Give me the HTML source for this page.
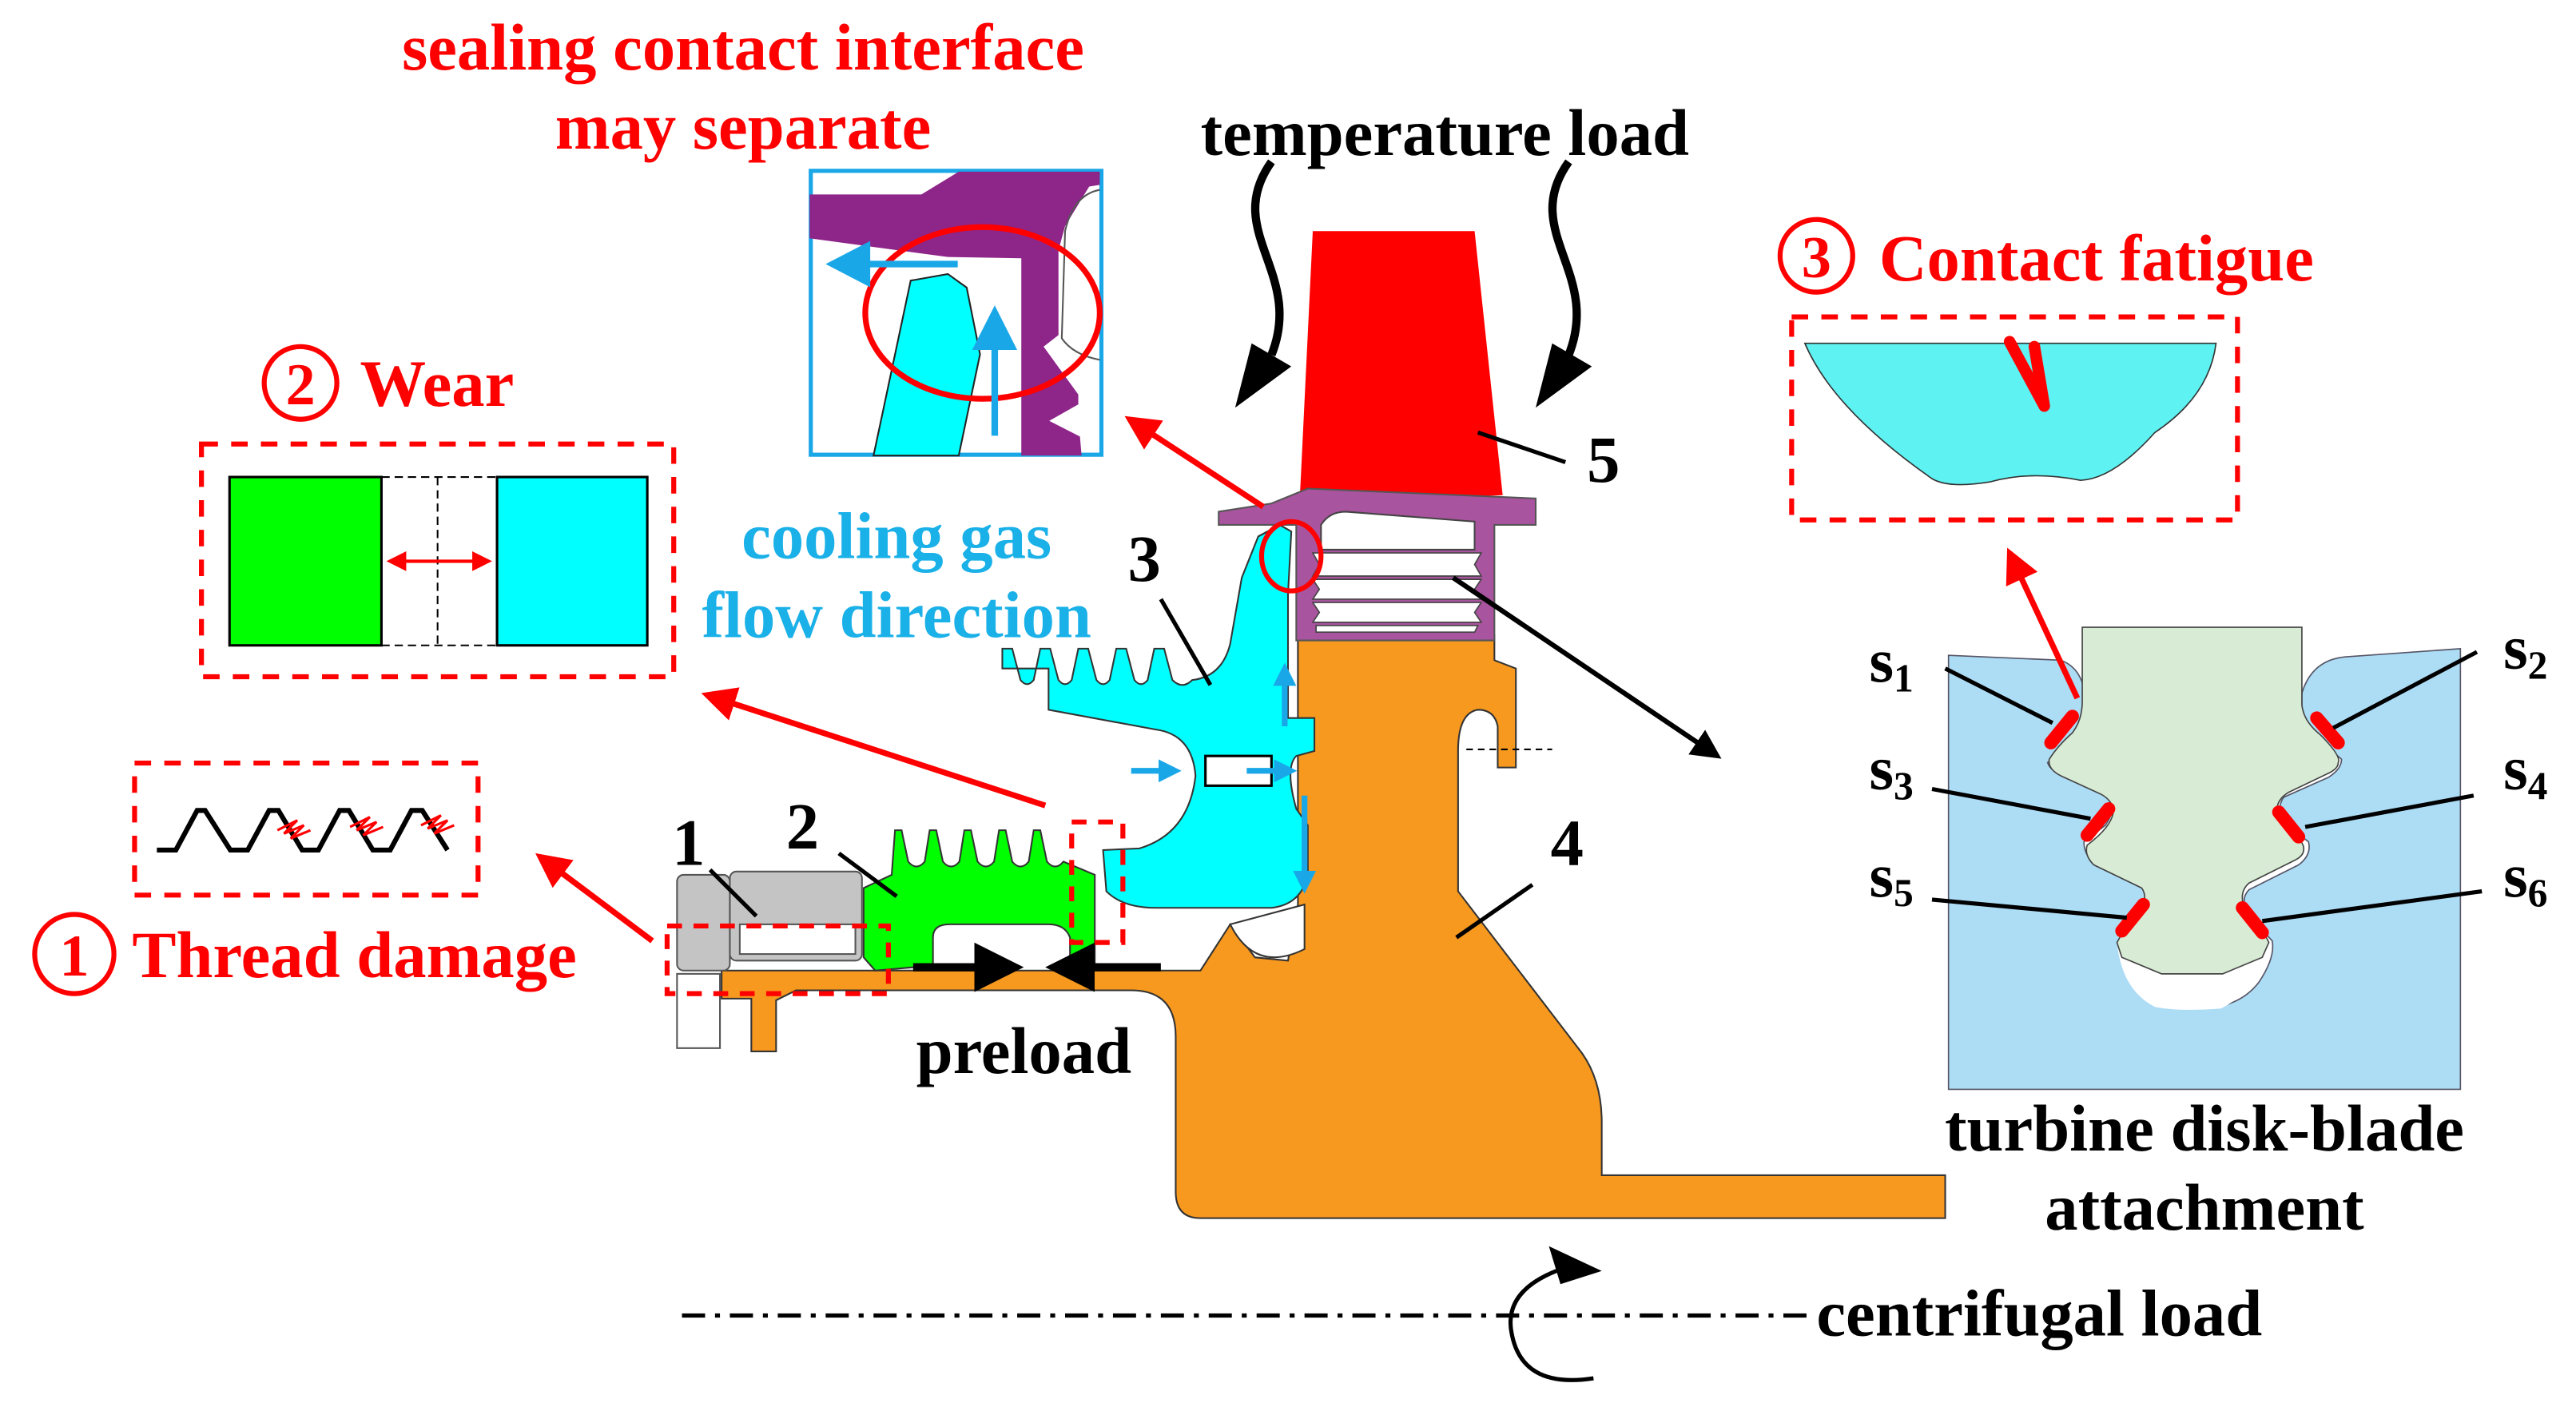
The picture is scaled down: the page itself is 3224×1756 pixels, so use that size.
<!DOCTYPE html>
<html><head><meta charset="utf-8"><style>
html,body{margin:0;padding:0;background:#fff;}
svg{display:block;}
text{font-family:"Liberation Serif",serif;font-weight:bold;}
</style></head><body>
<svg width="3224" height="1756" viewBox="0 0 1560 850" preserveAspectRatio="none" xmlns="http://www.w3.org/2000/svg">
<defs>
<marker id="ar" markerWidth="6" markerHeight="6" refX="5" refY="3" orient="auto-start-reverse" markerUnits="strokeWidth"><path d="M0,0 L6,3 L0,6 Z" fill="#f00"/></marker>
<marker id="ak" markerWidth="6" markerHeight="6" refX="5" refY="3" orient="auto" markerUnits="strokeWidth"><path d="M0,0 L6,3 L0,6 Z" fill="#000"/></marker>
<marker id="ab" markerWidth="4" markerHeight="4" refX="3" refY="2" orient="auto" markerUnits="strokeWidth"><path d="M0,0 L4,2 L0,4 Z" fill="#1aa7e8"/></marker>
</defs>

<!-- titles -->
<text x="450" y="42" font-size="40" fill="#f00" text-anchor="middle">sealing contact interface</text>
<text x="450" y="90" font-size="40" fill="#f00" text-anchor="middle">may separate</text>
<text x="875" y="94" font-size="40" fill="#000" text-anchor="middle">temperature load</text>
<circle cx="1100" cy="155" r="22" fill="none" stroke="#f00" stroke-width="3"/>
<text x="1100" y="168" font-size="36" fill="#f00" text-anchor="middle">3</text>
<text x="1138" y="170" font-size="40" fill="#f00">Contact fatigue</text>
<circle cx="182" cy="232" r="22" fill="none" stroke="#f00" stroke-width="3"/>
<text x="182" y="245" font-size="36" fill="#f00" text-anchor="middle">2</text>
<text x="218" y="246" font-size="40" fill="#f00">Wear</text>
<text x="543" y="338" font-size="40" fill="#1ab0e8" text-anchor="middle">cooling gas</text>
<text x="543" y="386" font-size="40" fill="#1ab0e8" text-anchor="middle">flow direction</text>
<circle cx="45" cy="578" r="24" fill="none" stroke="#f00" stroke-width="3"/>
<text x="45" y="591" font-size="36" fill="#f00" text-anchor="middle">1</text>
<text x="80" y="592" font-size="40" fill="#f00">Thread damage</text>
<text x="620" y="650" font-size="40" fill="#000" text-anchor="middle">preload</text>
<text x="1335" y="697" font-size="40" fill="#000" text-anchor="middle">turbine disk-blade</text>
<text x="1335" y="745" font-size="40" fill="#000" text-anchor="middle">attachment</text>
<text x="1100" y="809" font-size="40" fill="#000">centrifugal load</text>

<!-- wear box -->
<rect x="122" y="269" width="286" height="141" fill="none" stroke="#f00" stroke-width="3" stroke-dasharray="10,8"/>
<rect x="139" y="289" width="92" height="102" fill="#00ff00" stroke="#000" stroke-width="1.5"/>
<rect x="301" y="289" width="91" height="102" fill="#00ffff" stroke="#000" stroke-width="1.5"/>
<path d="M231,289 H301 M231,391 H301 M265,289 V391" stroke="#000" stroke-width="1" stroke-dasharray="5,3" fill="none"/>
<line x1="236" y1="340" x2="296" y2="340" stroke="#f00" stroke-width="2" marker-start="url(#ar)" marker-end="url(#ar)"/>

<!-- thread box -->
<rect x="81.5" y="462.3" width="208" height="80" fill="none" stroke="#f00" stroke-width="3" stroke-dasharray="10,8"/>
<polyline points="95,515 106.5,515 119.4,491 124.2,491 139.5,515 150,515 163,491 168.6,491 183,515 192.8,515 205.7,491 211.3,491 225.8,515 236.3,515 249.2,491 255.7,491 271,515" fill="none" stroke="#000" stroke-width="3"/>
<g stroke="#f00" stroke-width="1.5" fill="none">
<path d="M168,503 L180,497 L172,505 L184,500 L176,508 L188,503"/>
<path d="M212,501 L224,495 L216,503 L228,498 L220,506 L232,501"/>
<path d="M255,500 L267,494 L259,502 L271,497 L263,505 L275,500"/>
</g>

<!-- inset -->
<rect x="491" y="103.5" width="176" height="172" fill="#fff" stroke="#1aa7e8" stroke-width="2.5"/>
<path d="M490.3,117.8 L558,117.8 L580.6,104 L666,104 L666,112 L659.6,113 L645,137 L641,151.6 L641,203 L632,210 L653,239 L653,245 L635.4,255 L654,264.5 L655,276 L618.5,276 L618.5,156.5 L574,155.7 L490.3,144.4 Z" fill="#8e2589"/>
<path d="M666,115 Q650,118 645,140 L643,205 Q650,215 666,218" fill="none" stroke="#555" stroke-width="1"/>
<path d="M529,276 L551.5,170 L574,166 L585.4,174.2 L593.5,214.6 L580.6,276 Z" fill="#00ffff" stroke="#222" stroke-width="1"/>
<ellipse cx="595" cy="189.6" rx="71" ry="52" fill="none" stroke="#f00" stroke-width="3.5"/>
<line x1="580" y1="160" x2="526" y2="160" stroke="#1aa7e8" stroke-width="4"/>
<path d="M500,160 L527,146 L527,174 Z" fill="#1aa7e8"/>
<line x1="602.4" y1="264" x2="602.4" y2="208" stroke="#1aa7e8" stroke-width="4"/>
<path d="M602.4,185 L588.7,212 L616,212 Z" fill="#1aa7e8"/>

<!-- contact fatigue box -->
<rect x="1085" y="192" width="270" height="123" fill="none" stroke="#f00" stroke-width="3" stroke-dasharray="10,8"/>
<path d="M1093,208 L1342,208 Q1338,240 1305,262 Q1280,290 1260,291 Q1230,285 1205,292 Q1180,296 1170,290 Q1110,248 1093,208 Z" fill="#5ef2f2" stroke="#333" stroke-width="0.8"/>
<path d="M1217,207 L1238,246 L1232,210" fill="none" stroke="#f00" stroke-width="7" stroke-linejoin="round" stroke-linecap="round"/>

<!-- disk-blade attachment -->
<path d="M1180,397 L1248,400 Q1262,405 1263,425 L1263,436 Q1262,445 1240,462 Q1242,468 1252,470 L1277,482 Q1283,488 1275,500 L1262,510 Q1262,520 1272,525 L1298,538 Q1303,545 1295,555 L1283,570 Q1285,590 1300,600 Q1312,612 1328,611 Q1355,612 1368,595 Q1378,580 1376,570 L1362,555 Q1356,545 1362,539 L1392,524 Q1400,518 1398,510 L1384,499 Q1378,490 1383,483 L1410,471 Q1418,466 1418,460 L1397,442 Q1394,436 1394,428 L1394,420 Q1400,400 1420,398 L1490,393 L1490,660 L1180,660 Z" fill="#addcf5" stroke="#556" stroke-width="0.8"/>
<path d="M1282,571 Q1285,600 1305,610 Q1320,613 1345,611 Q1370,598 1375,572 Z" fill="#fff"/>
<path d="M1261,380 L1394,380 L1394,427 Q1395,437 1405,445 Q1418,458 1416,462 Q1416,466 1409,469 L1386,480 Q1376,486 1380,497 Q1394,508 1395,513 Q1396,518 1390,521 L1362,535 Q1355,541 1360,552 Q1372,566 1374,571 L1370,580 L1346,590 L1309,590 L1285,580 L1282,571 Q1288,560 1298,549 Q1300,542 1297,538 L1268,524 Q1262,518 1264,512 Q1280,500 1280,490 Q1278,484 1272,481 L1248,470 Q1240,466 1241,460 Q1246,452 1255,444 Q1261,436 1261,425 Z" fill="#d8ebd5" stroke="#444" stroke-width="0.8"/>
<g stroke="#f00" stroke-width="8" stroke-linecap="round">
<line x1="1242" y1="450" x2="1255" y2="434"/>
<line x1="1403" y1="435" x2="1416" y2="450"/>
<line x1="1264" y1="506" x2="1277" y2="490"/>
<line x1="1380" y1="492" x2="1392" y2="507"/>
<line x1="1285" y1="564" x2="1298" y2="548"/>
<line x1="1358" y1="550" x2="1370" y2="565"/>
</g>
<g stroke="#000" stroke-width="2.5">
<line x1="1178" y1="405" x2="1243" y2="438"/>
<line x1="1500" y1="395" x2="1413" y2="441"/>
<line x1="1170" y1="478" x2="1266" y2="496"/>
<line x1="1498" y1="482" x2="1396" y2="501"/>
<line x1="1170" y1="545" x2="1288" y2="556"/>
<line x1="1503" y1="540" x2="1370" y2="558"/>
</g>
<g font-size="38" fill="#000">
<text x="1132" y="413">s<tspan font-size="24" dy="6">1</tspan></text>
<text x="1516" y="405">s<tspan font-size="24" dy="6">2</tspan></text>
<text x="1132" y="478">s<tspan font-size="24" dy="6">3</tspan></text>
<text x="1516" y="478">s<tspan font-size="24" dy="6">4</tspan></text>
<text x="1132" y="543">s<tspan font-size="24" dy="6">5</tspan></text>
<text x="1516" y="543">s<tspan font-size="24" dy="6">6</tspan></text>
</g>

<!-- main assembly: disk 4 -->
<path d="M437,588 L727,588 L745,560 L760,580 L780,582 L786,548 L786,385 L905,385 L905,400 L918,405 L918,465 L907,465 L907,440 Q905,430 895,430 Q883,432 883,455 L883,540 L958,638 Q970,655 970,680 L970,712 L1178,712 L1178,738 L727,738 Q712,738 712,722 L712,628 Q712,600 685,600 L482,600 L470,606 L470,637 L455,637 L455,605 L437,605 Z" fill="#f7981f" stroke="#333" stroke-width="1"/>
<path d="M745,560 Q760,590 790,575 L790,548 Z" fill="#fff" stroke="#333" stroke-width="1"/>
<line x1="888" y1="454" x2="940" y2="454" stroke="#000" stroke-width="1" stroke-dasharray="4,3"/>
<!-- blade 5 -->
<path d="M795,140 L893,140 L910,300 L787,305 Z" fill="#f00"/>
<!-- platform purple -->
<path d="M738,310 L770,305 L792,296 L930,302 L930,318 L905,318 L905,388 L785,388 L785,318 L738,318 Z" fill="#a9549e" stroke="#555" stroke-width="1"/>
<path d="M800,318 Q805,310 815,310 L893,316 L893,333 L800,333 Z" fill="#fff" stroke="#444" stroke-width="1"/>
<g fill="#fff" stroke="#444" stroke-width="0.8">
<path d="M795,335 L897,335 L893,342 L897,349 L795,349 L799,342 Z"/>
<path d="M795,351 L897,351 L893,357 L897,363 L795,363 L799,357 Z"/>
<path d="M795,365 L897,365 L893,371 L897,377 L795,377 L799,371 Z"/>
<path d="M797,379 L895,379 L893,383 L797,383 Z"/>
</g>
<!-- cyan part 3 -->
<path d="M607,393 L613,393 L618,412 Q622,417 626,412 L630,393 L636,393 L641,412 Q645,417 649,412 L653,393 L659,393 L664,412 Q668,417 672,412 L676,393 L682,393 L687,412 Q691,417 695,412 L699,393 L705,393 L710,412 Q716,418 722,412 Q740,410 745,390 L752,350 L762,325 L775,318 L782,322 L780,360 L780,435 L796,435 L796,455 L785,458 Q778,465 785,490 L792,500 L792,530 Q788,548 770,550 L700,550 Q680,550 670,540 L668,515 L690,514 Q720,505 724,470 Q722,445 700,442 L635,430 L635,405 L607,405 Z" fill="#00ffff" stroke="#333" stroke-width="1"/>
<rect x="730" y="458" width="40" height="18" fill="#fff" stroke="#000" stroke-width="1.5"/>
<!-- green part 2 -->
<path d="M523,538 L540,530 L542,503 L546,503 L550,522 Q555,528 560,522 L563,503 L567,503 L571,522 Q576,528 581,522 L584,503 L588,503 L592,522 Q597,528 602,522 L605,503 L609,503 L613,522 Q618,528 623,522 L626,503 L630,503 L634,522 Q639,528 644,522 L663,530 L663,585 L648,585 L648,568 Q645,560 635,560 L575,560 Q565,560 565,568 L565,585 L530,588 L523,580 Z" fill="#00ff00" stroke="#333" stroke-width="1"/>
<!-- gray nut 1 -->
<rect x="410" y="530" width="32" height="58" rx="4" fill="#c4c4c4" stroke="#555" stroke-width="1"/>
<rect x="442" y="528" width="80" height="54" rx="4" fill="#c4c4c4" stroke="#555" stroke-width="1"/>
<rect x="448" y="560" width="70" height="18" fill="#fff" stroke="#555" stroke-width="1"/>
<rect x="410" y="590" width="26" height="45" fill="#fff" stroke="#555" stroke-width="1"/>
<!-- cyan arrows -->
<g stroke="#1aa7e8" stroke-width="3.5" fill="none">
<line x1="685" y1="467" x2="712" y2="467" marker-end="url(#ab)"/>
<line x1="755" y1="467" x2="782" y2="467" marker-end="url(#ab)"/>
<line x1="778" y1="440" x2="778" y2="405" marker-end="url(#ab)"/>
<line x1="790" y1="482" x2="790" y2="538" marker-end="url(#ab)"/>
</g>
<ellipse cx="782" cy="337" rx="18" ry="21" fill="none" stroke="#f00" stroke-width="3"/>
<g fill="none" stroke="#f00" stroke-width="3" stroke-dasharray="9,7">
<rect x="404" y="561" width="134" height="41"/>
<rect x="649" y="498" width="31" height="73"/>
</g>
<!-- preload arrows -->
<line x1="553" y1="586" x2="615" y2="586" stroke="#000" stroke-width="5" marker-end="url(#ak)"/>
<line x1="703" y1="586" x2="638" y2="586" stroke="#000" stroke-width="5" marker-end="url(#ak)"/>
<!-- number labels & leaders -->
<g font-size="40" fill="#000">
<text x="407" y="524">1</text>
<text x="476" y="514">2</text>
<text x="683" y="352">3</text>
<text x="939" y="524">4</text>
<text x="961" y="292">5</text>
</g>
<g stroke="#000" stroke-width="2.5">
<line x1="430" y1="527" x2="458" y2="555"/>
<line x1="508" y1="517" x2="543" y2="543"/>
<line x1="703" y1="363" x2="733" y2="415"/>
<line x1="928" y1="536" x2="882" y2="568"/>
<line x1="948" y1="280" x2="895" y2="262"/>
</g>
<!-- temperature squiggles -->
<path d="M770,98 C740,140 790,165 770,215" fill="none" stroke="#000" stroke-width="5"/>
<path d="M950,98 C920,140 970,165 950,215" fill="none" stroke="#000" stroke-width="5"/>
<path d="M748,247 L758,208 L782,222 Z" fill="#000"/>
<path d="M930,247 L940,208 L964,222 Z" fill="#000"/>
<!-- big red/black arrows -->
<g stroke="#f00" stroke-width="3.5" fill="none">
<line x1="765" y1="307" x2="684" y2="254" marker-end="url(#ar)"/>
<line x1="633" y1="488" x2="428" y2="421" marker-end="url(#ar)"/>
<line x1="395" y1="570" x2="327" y2="519" marker-end="url(#ar)"/>
<line x1="1258" y1="423" x2="1217" y2="335" marker-end="url(#ar)"/>
</g>
<line x1="880" y1="350" x2="1040" y2="458" stroke="#000" stroke-width="3" marker-end="url(#ak)"/>
<!-- centrifugal -->
<line x1="413" y1="797" x2="1098" y2="797" stroke="#000" stroke-width="2.5" stroke-dasharray="14,6,3,6"/>
<path d="M948,768 Q912,780 915,805 Q920,842 965,835" fill="none" stroke="#000" stroke-width="2.5"/>
<path d="M938,755 L970,770 L945,778 Z" fill="#000"/>
</svg>
</body></html>
